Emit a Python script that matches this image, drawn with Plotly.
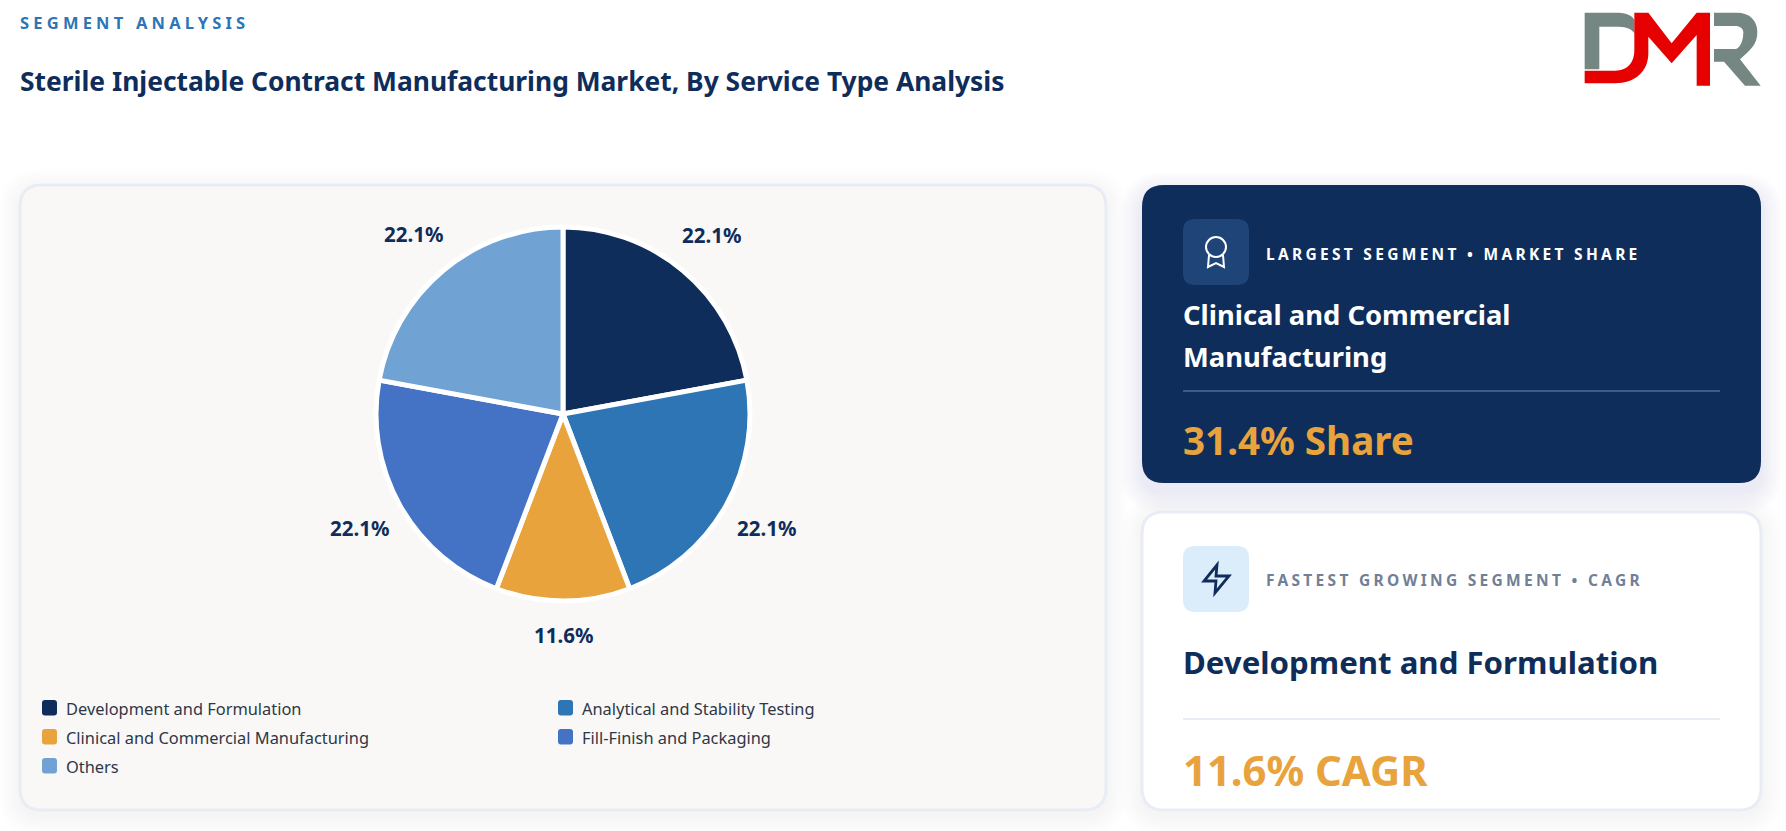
import re
import math
import plotly.graph_objects as go

# Data
labels = ["Development and Formulation", "Analytical and Stability Testing",
          "Clinical and Commercial Manufacturing", "Fill-Finish and Packaging", "Others"]
values = [22.1, 22.1, 11.6, 22.1, 22.1]
colors = ["#0F2D5A", "#2E75B6", "#E8A33D", "#4472C4", "#70A3D4"]

section_label = "SEGMENT ANALYSIS"
chart_title = "Sterile Injectable Contract Manufacturing Market, By Service Type Analysis"
largest_tag = "LARGEST SEGMENT • MARKET SHARE"
largest_name = ["Clinical and Commercial", "Manufacturing"]
largest_value = "31.4% Share"
fastest_tag = "FASTEST GROWING SEGMENT • CAGR"
fastest_name = "Development and Formulation"
fastest_value = "11.6% CAGR"

W, H = 1786, 831
FONT = "Noto Sans"
NAVY = "#0F2D5A"
ORANGE = "#E8A33D"


def fx(x):
    return x / W


def fy(y):
    return 1 - y / H


def to_paper(path, ox=0, oy=0, k=1):
    # pixel path (M/L/C/Q/Z) -> paper fractions
    out, is_x = [], True
    for tok in re.findall(r"[A-Za-z]|-?[\d.]+", path):
        if tok.isalpha():
            out.append(tok)
            is_x = True
        else:
            v = float(tok)
            out.append(f"{fx(ox + v / k):.5f}" if is_x else f"{fy(oy + v / k):.5f}")
            is_x = not is_x
    return " ".join(out)


def rrect(x0, y0, x1, y1, r):
    return (f"M {x0 + r} {y0} L {x1 - r} {y0} Q {x1} {y0} {x1} {y0 + r} L {x1} {y1 - r} "
            f"Q {x1} {y1} {x1 - r} {y1} L {x0 + r} {y1} Q {x0} {y1} {x0} {y1 - r} "
            f"L {x0} {y0 + r} Q {x0} {y0} {x0 + r} {y0} Z")


shapes = []


def add_path(path, fill=None, line=None, width=0, layer="below", **kw):
    shapes.append(dict(type="path", xref="paper", yref="paper", layer=layer,
                       path=to_paper(path, **kw), fillcolor=fill or "rgba(0,0,0,0)",
                       line=dict(color=line or "rgba(0,0,0,0)", width=width)))


def add_card(x0, y0, x1, y1, fill, border, shadow, drop=5):
    # soft drop shadow from stacked translucent boxes
    for i in range(10, 0, -1):
        g = i * 2.2
        add_path(rrect(x0 - g, y0 - g + drop, x1 + g, y1 + g + drop, 22 + g), fill=f"rgba(15,45,90,{shadow})")
    if border:
        add_path(rrect(x0, y0, x1, y1, 22), fill=fill, line=border, width=3)
    else:
        add_path(rrect(x0, y0, x1, y1, 22), fill=fill)


def text(x, y, s, size, color, bold=False, anchor="left"):
    return dict(xref="paper", yref="paper", x=fx(x), y=fy(y), text=s, showarrow=False,
                xanchor=anchor, yanchor="middle", align=anchor,
                font=dict(family=FONT, size=size, color=color, weight=700 if bold else 400))


# Cards
add_card(20, 185, 1106, 810, "#FAF8F6", "#E8EDF5", 0.0035)
add_card(1142, 185, 1761, 483, NAVY, None, 0.008, drop=9)
add_card(1142, 512, 1761, 810, "#FFFFFF", "#E8EDF5", 0.0035)

# Icon boxes
add_path(rrect(1183, 219, 1249, 285, 12), fill="#1E4478")
add_path(rrect(1183, 546, 1249, 612, 12), fill="#DBEDFB")

# Award icon
add_path("M 1216 237 C 1221.5 237 1226 241.5 1226 247 C 1226 252.5 1221.5 257 1216 257 "
         "C 1210.5 257 1206 252.5 1206 247 C 1206 241.5 1210.5 237 1216 237 Z",
         line="#FFFFFF", width=2, layer="above")
add_path("M 1209 255 L 1208 267 L 1216 263 L 1224 267 L 1223 255", line="#FFFFFF", width=2, layer="above")

# Zap icon
add_path("M 1217 565 L 1204 581 L 1216 581 L 1215 593 L 1229 576 L 1216 576 Z", line=NAVY, width=2.8, layer="above")

# Dividers
add_path("M 1183 391 L 1720 391", line="#3F5B85", width=2)
add_path("M 1183 719 L 1720 719", line="#E8EDF5", width=2)

# Logo
logo = dict(ox=1540, oy=0, k=3)
add_path("M 134 38 L 235 38 C 262 38 280 50 283 60 L 283 100 C 278 90 262 80 235 80 L 178 80 "
         "L 178 208 L 134 208 Z", fill="#748783", **logo)
add_path("M 134 212 L 225 212 C 265 212 283 185 283 150 L 283 38 L 325 38 L 395 130 L 470 38 L 510 38 "
         "L 510 257 L 470 257 L 470 105 L 395 190 L 325 110 L 325 160 C 325 215 285 250 225 250 L 134 250 Z",
         fill="#E60000", **logo)
add_path("M 522 38 L 590 38 C 630 38 652 62 652 95 C 652 135 630 150 600 178 L 662 257 L 615 257 "
         "L 552 185 L 522 185 L 522 147 L 585 147 C 600 147 610 120 610 98 C 610 85 600 78 585 78 L 522 78 Z",
         fill="#748783", **logo)

annotations = [
    text(18, 22, section_label, 16.5, "#2E75B6", bold=True),
    text(17.5, 81, chart_title, 26.4, NAVY, bold=True),
    text(1264, 254, largest_tag, 15.5, "#FFFFFF", bold=True),
    text(1181, 314, largest_name[0], 27.4, "#FFFFFF", bold=True),
    text(1181, 356, largest_name[1], 27.4, "#FFFFFF", bold=True),
    text(1181, 440, largest_value, 38.6, ORANGE, bold=True),
    text(1264, 580, fastest_tag, 15.5, "#718096", bold=True),
    text(1181, 662, fastest_name, 31.2, NAVY, bold=True),
    text(1181, 769, fastest_value, 41.8, ORANGE, bold=True),
]

# Percentage labels, placed radially around the pie
cx, cy, radius = 563, 414, 187
label_dist = [232, 234, 222, 234, 233]
cum = 0
for v, d in zip(values, label_dist):
    mid = (cum + v / 2) / sum(values) * 2 * math.pi
    annotations.append(text(cx + d * math.sin(mid), cy - d * math.cos(mid) - 1, f"{v}%", 20.5, NAVY,
                            bold=True, anchor="center"))
    cum += v

# Legend, two columns
col_x = [42, 558]
row_y = [708, 737, 766]
for i, (name, c) in enumerate(zip(labels, colors)):
    x, y = col_x[i % 2], row_y[i // 2]
    add_path(rrect(x, y - 8, x + 15, y + 7.5, 3), fill=c)
    annotations.append(text(x + 21.5, y, name, 16.4, "#2D3748"))

fig = go.Figure(go.Pie(
    labels=labels, values=values, sort=False, direction="clockwise", rotation=0,
    marker=dict(colors=colors, line=dict(color="#FFFFFF", width=5)),
    textinfo="none", showlegend=False,
    domain=dict(x=[fx(cx - radius), fx(cx + radius)], y=[fy(cy + radius), fy(cy - radius)]),
))

fig.update_layout(
    width=W, height=H, margin=dict(l=0, r=0, t=0, b=0), autosize=False,
    paper_bgcolor="#FFFFFF", plot_bgcolor="#FFFFFF", showlegend=False,
    shapes=shapes, annotations=annotations,
)

# letter spacing for the small caps headings, page margin off
post = """
document.body.style.margin = '0';
document.documentElement.style.overflow = 'hidden';
var sp = {'SEGMENT ANALYSIS': '4.2px', 'LARGEST': '3.3px', 'FASTEST': '3.3px'};
document.querySelectorAll('.annotation-text').forEach(function (t) {
  Object.keys(sp).forEach(function (k) {
    if (t.textContent.indexOf(k) === 0) t.style.letterSpacing = sp[k];
  });
});
"""
fig.write_html("out.html", post_script=post, config=dict(displayModeBar=False))
